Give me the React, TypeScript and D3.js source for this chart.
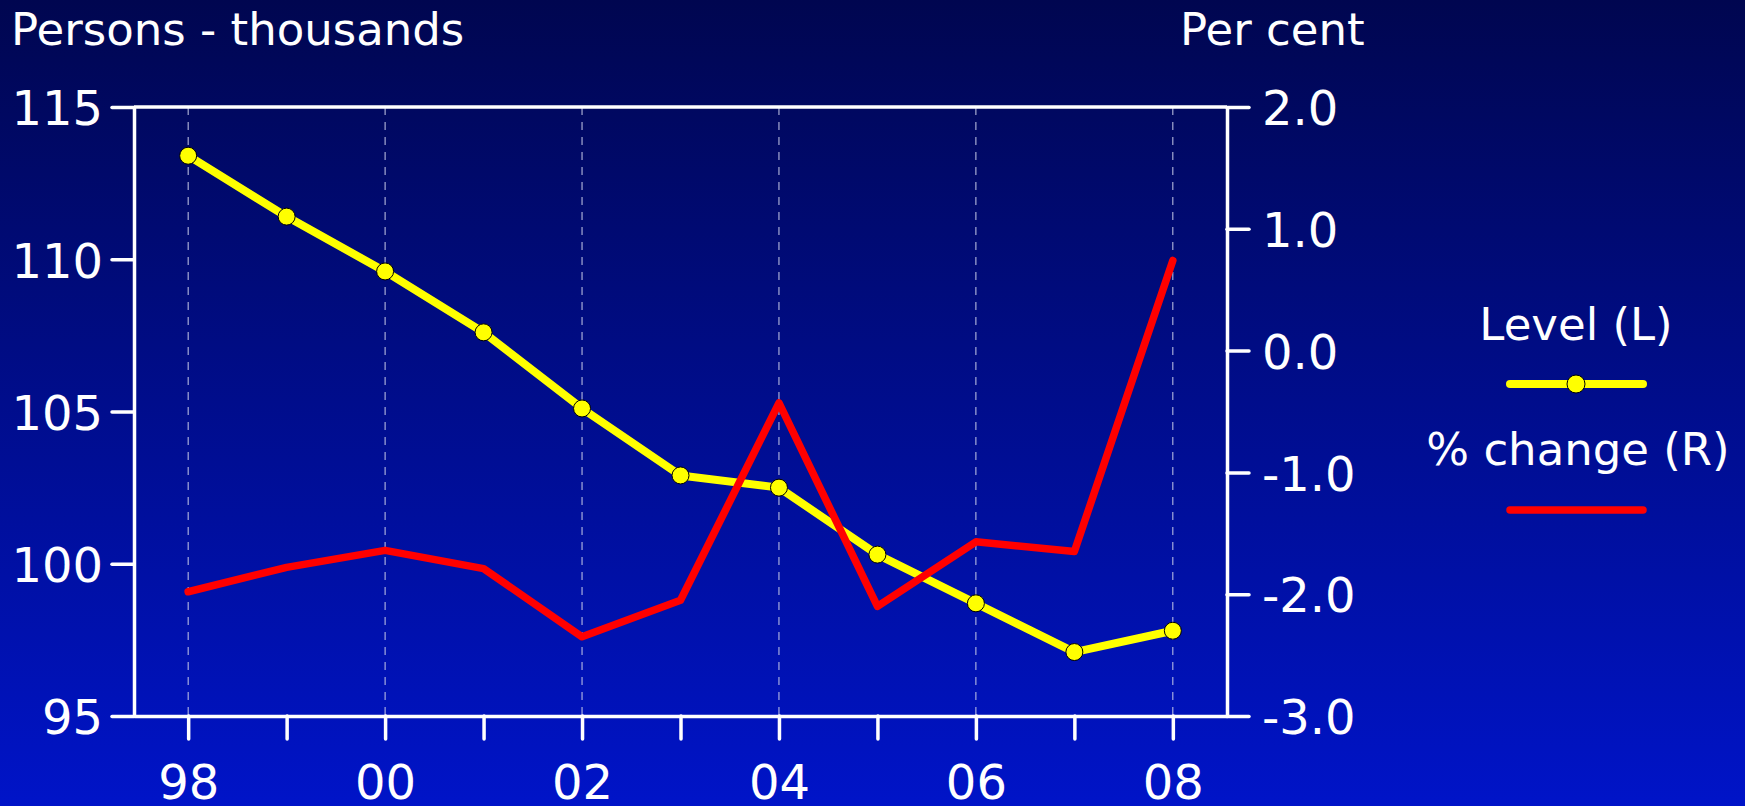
import { useEffect, useRef } from "react";
import * as d3 from "d3";

const width = 1745;
const height = 806;
const margin = { top: 107, right: 518, bottom: 90, left: 134 };
const font = "'DejaVu Sans', Verdana, sans-serif";

// chart data
const years = [1998, 1999, 2000, 2001, 2002, 2003, 2004, 2005, 2006, 2007, 2008];
const level = [113.4, 111.4, 109.6, 107.6, 105.1, 102.9, 102.5, 100.3, 98.7, 97.1, 97.8];
const change = [-1.98, -1.78, -1.64, -1.79, -2.35, -2.05, -0.43, -2.1, -1.57, -1.65, 0.74];

const leftTicks = [95, 100, 105, 110, 115];
const rightTicks = [-3, -2, -1, 0, 1, 2];
const gridYears = [1998, 2000, 2002, 2004, 2006, 2008];
const seriesNames = ["Level (L)", "% change (R)"];

const App = () => {
  const leftRef = useRef<SVGGElement>(null);
  const rightRef = useRef<SVGGElement>(null);
  const bottomRef = useRef<SVGGElement>(null);

  const x0 = margin.left;
  const x1 = width - margin.right;
  const yTop = margin.top;
  const yBot = height - margin.bottom;

  const xScale = d3.scaleLinear().domain([1997.45, 2008.55]).range([x0, x1]);
  const yLeft = d3.scaleLinear().domain([95, 115]).range([yBot, yTop]);
  const yRight = d3.scaleLinear().domain([-3, 2]).range([yBot, yTop]);

  const levelLine = d3
    .line<number>()
    .x((_, i) => xScale(years[i]))
    .y((d) => yLeft(d));
  const changeLine = d3
    .line<number>()
    .x((_, i) => xScale(years[i]))
    .y((d) => yRight(d));

  useEffect(() => {
    const style = (g: any) => {
      g.select(".domain").attr("stroke", "#fff").attr("stroke-width", 3.5);
      g.selectAll(".tick line").attr("stroke", "#fff").attr("stroke-width", 3.5).attr("stroke-linecap", "round");
      g.selectAll(".tick text").attr("fill", "#fff").attr("font-size", 48).attr("font-family", font);
    };

    const left = d3.select(leftRef.current);
    left.call(
      d3.axisLeft(yLeft).tickValues(leftTicks).tickSizeInner(22).tickSizeOuter(0).tickPadding(9).tickFormat(d3.format("d"))
    );
    style(left);
    left.selectAll(".tick text").attr("dy", "0.37em");

    const right = d3.select(rightRef.current);
    right.call(
      d3.axisRight(yRight).tickValues(rightTicks).tickSizeInner(22).tickSizeOuter(0).tickPadding(13)
        .tickFormat((d: any) => (+d).toFixed(1))
    );
    style(right);
    right.selectAll(".tick text").attr("dy", "0.37em");

    const bottom = d3.select(bottomRef.current);
    bottom.call(
      d3.axisBottom(xScale).tickValues(years).tickSizeInner(23).tickSizeOuter(0).tickPadding(26)
        .tickFormat((d: any) => (d % 2 === 0 ? String(d % 100).padStart(2, "0") : ""))
    );
    style(bottom);
  }, []);

  return (
    <svg width={width} height={height} style={{ position: "absolute", left: 0, top: 0 }}>
      <defs>
        <linearGradient id="bg" x1="0" y1="0" x2="0" y2="1">
          <stop offset="0%" stopColor="#000650" />
          <stop offset="100%" stopColor="#0014c8" />
        </linearGradient>
      </defs>
      <rect x={0} y={0} width={width} height={height} fill="url(#bg)" />

      <text x={11} y={45} fill="#fff" fontSize={45} fontFamily={font}>Persons - thousands</text>
      <text x={1180} y={45} fill="#fff" fontSize={45} fontFamily={font}>Per cent</text>

      {gridYears.map((yr) => (
        <line key={yr} x1={xScale(yr)} x2={xScale(yr)} y1={yTop} y2={yBot}
          stroke="#c8cce8" strokeWidth={1} strokeDasharray="8,7" />
      ))}

      <line x1={x0} x2={x1} y1={yLeft(115)} y2={yLeft(115)} stroke="#fff" strokeWidth={3.5} />
      <g ref={leftRef} transform={`translate(${x0},0)`} />
      <g ref={rightRef} transform={`translate(${x1},0)`} />
      <g ref={bottomRef} transform={`translate(0,${yBot})`} />

      <path d={levelLine(level) ?? ""} fill="none" stroke="#ffff00" strokeWidth={8} strokeLinejoin="round" strokeLinecap="round" />
      {level.map((v, i) => (
        <circle key={i} cx={xScale(years[i])} cy={yLeft(v)} r={8.5} fill="#ffff00" stroke="#000" strokeWidth={1} />
      ))}
      <path d={changeLine(change) ?? ""} fill="none" stroke="#ff0000" strokeWidth={7.5} strokeLinejoin="round" strokeLinecap="round" />

      {/* legend */}
      <text x={1576} y={340} textAnchor="middle" fill="#fff" fontSize={45} fontFamily={font}>{seriesNames[0]}</text>
      <line x1={1510} x2={1643} y1={384} y2={384} stroke="#ffff00" strokeWidth={8} strokeLinecap="round" />
      <circle cx={1576} cy={384} r={9} fill="#ffff00" stroke="#000" strokeWidth={1} />
      <text x={1578} y={465} textAnchor="middle" fill="#fff" fontSize={45} fontFamily={font}>{seriesNames[1]}</text>
      <line x1={1510} x2={1643} y1={510} y2={510} stroke="#ff0000" strokeWidth={7.5} strokeLinecap="round" />
    </svg>
  );
};

export default App;
